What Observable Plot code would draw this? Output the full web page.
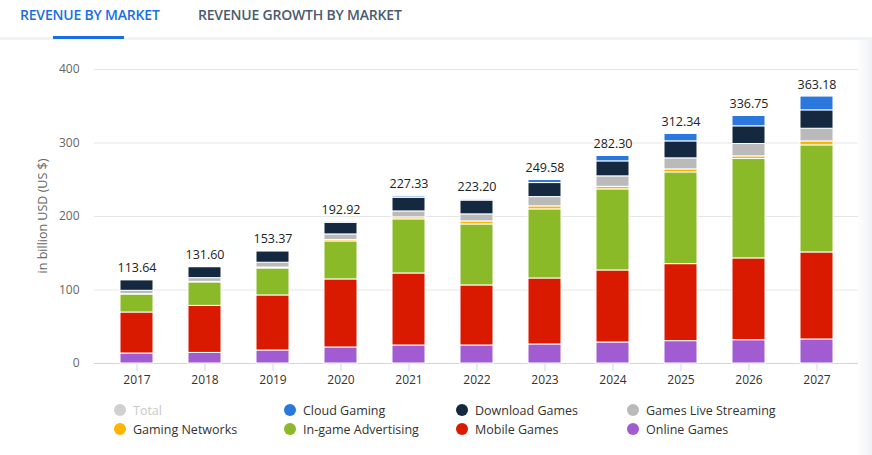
<!DOCTYPE html>
<html>
<head>
<meta charset="utf-8">
<script src="https://cdn.jsdelivr.net/npm/d3@7"></script>
<script src="https://cdn.jsdelivr.net/npm/@observablehq/plot@0.6"></script>
<style>
  html, body { margin: 0; padding: 0; background: #fff; }
  body { width: 872px; height: 455px; position: relative; overflow: hidden; font-family: "Open Sans", "DejaVu Sans", sans-serif; }
  .tab { position: absolute; top: 5px; font-size: 14px; font-weight: 600; letter-spacing: -0.2px; white-space: nowrap; }
  .tab1 { left: 20px; color: #1a6fe0; }
  .tab2 { left: 198px; color: #4b5a70; }
  .tabline { position: absolute; left: 0; top: 37px; width: 872px; height: 3px; background: #f0f3f7; }
  .tabsel { position: absolute; left: 53px; top: 36px; width: 71px; height: 3px; background: #1a6fe0; }
  .rightfade { position: absolute; right: 0; top: 40px; width: 16px; height: 415px; background: linear-gradient(to right, rgba(240,242,245,0), #f0f2f5); }
  #chart { position: absolute; left: 0; top: 50px; }
  .ylabel { position: absolute; left: 42px; top: 216px; transform: translate(-50%, -50%) rotate(-90deg); font-size: 12.5px; color: #666; white-space: nowrap; }
  .legend { position: absolute; font-size: 12.5px; color: #333; white-space: nowrap; }
  .legend .dot { position: absolute; width: 12px; height: 12px; border-radius: 50%; left: -19px; top: 2px; }
</style>
</head>
<body>
<div class="tab tab1">REVENUE BY MARKET</div>
<div class="tab tab2">REVENUE GROWTH BY MARKET</div>
<div class="tabline"></div>
<div class="tabsel"></div>
<div id="chart"></div>
<div class="ylabel" id="ylabel"></div>
<div id="legend"></div>
<div class="rightfade"></div>
<script>
const years = ["2017","2018","2019","2020","2021","2022","2023","2024","2025","2026","2027"];
const onlineGames        = [13.6, 14.4, 17.7, 21.8, 24.5, 24.5, 25.9, 28.6, 30.4, 31.7, 32.7];
const mobileGames        = [55.8, 64.0, 74.9, 92.6, 98.0, 81.7, 89.8, 98.0, 104.8, 111.3, 118.4];
const inGameAdvertising  = [24.5, 31.9, 36.7, 51.7, 73.6, 83.0, 94.0, 110.3, 124.8, 135.2, 145.7];
const gamingNetworks     = [0.5, 0.8, 1.3, 2.0, 2.7, 4.1, 4.1, 3.5, 4.1, 3.6, 5.4];
const gamesLiveStreaming = [4.5, 5.0, 6.5, 7.5, 8.1, 9.6, 12.6, 14.2, 15.0, 16.8, 17.2];
const downloadGames      = [14.4, 15.0, 15.5, 15.8, 18.6, 18.8, 19.1, 20.4, 23.1, 24.1, 25.0];
const cloudGaming        = [0.34, 0.5, 0.77, 1.52, 1.83, 1.5, 4.08, 7.3, 10.14, 14.05, 18.78];
const totals             = [113.64, 131.60, 153.37, 192.92, 227.33, 223.20, 249.58, 282.30, 312.34, 336.75, 363.18];
const yTicks = [0, 100, 200, 300, 400];
const yLabel = "in billion USD (US $)";

const seriesNames = ["Online Games","Mobile Games","In-game Advertising","Gaming Networks","Games Live Streaming","Download Games","Cloud Gaming"];
const seriesValues = [onlineGames, mobileGames, inGameAdvertising, gamingNetworks, gamesLiveStreaming, downloadGames, cloudGaming];
const seriesColors = ["#a05cd0","#d91a00","#8aba28","#ffb400","#bababa","#14283f","#2a77dd"];

const legendNames  = ["Total","Cloud Gaming","Download Games","Games Live Streaming","Gaming Networks","In-game Advertising","Mobile Games","Online Games"];
const legendColors = ["#d0d0d0","#2a77dd","#14283f","#bababa","#ffb400","#8aba28","#d91a00","#a05cd0"];

const rows = [];
seriesNames.forEach((s, i) => years.forEach((y, j) => rows.push({year: y, series: s, value: seriesValues[i][j]})));
const totalRows = years.map((y, j) => ({year: y, total: totals[j]}));

const chart = Plot.plot({
  width: 872,
  height: 340,
  marginLeft: 94,
  marginRight: 14,
  marginTop: 19,
  marginBottom: 27,
  style: {fontFamily: "'Open Sans', 'DejaVu Sans', sans-serif", fontSize: "12px", background: "transparent"},
  x: {domain: years, paddingInner: 0.52, paddingOuter: 0.36},
  y: {domain: [0, 400]},
  color: {domain: seriesNames, range: seriesColors},
  marks: [
    Plot.ruleY(yTicks.filter(d => d > 0), {stroke: "#e6e6e6"}),
    Plot.ruleY([0], {stroke: "#ccd6eb"}),
    Plot.axisY({ticks: yTicks, tickSize: 0, tickPadding: 15, label: null, fill: "#666", fontSize: 12}),
    Plot.axisX({tickSize: 8, tickPadding: 4, label: null, stroke: "#ccd6eb", fill: "#333", fontSize: 12}),
    Plot.barY(rows, {x: "year", y: "value", fill: "series", order: seriesNames, stroke: "white", strokeWidth: 1}),
    Plot.text(totalRows, {x: "year", y: "total", text: d => d.total.toFixed(2), dy: -12, fill: "#222", fontSize: 12.5, fontWeight: 500})
  ]
});
document.getElementById("chart").appendChild(chart);
document.getElementById("ylabel").textContent = yLabel;

const legendX = [133, 303, 475, 646];
const legendY = [402, 421];
const lg = document.getElementById("legend");
legendNames.forEach((n, i) => {
  const d = document.createElement("div");
  d.className = "legend";
  d.style.left = legendX[i % 4] + "px";
  d.style.top = legendY[Math.floor(i / 4)] + "px";
  if (n === "Total") d.style.color = "#c8c8c8";
  d.innerHTML = `<span class="dot" style="background:${legendColors[i]}"></span>${n}`;
  lg.appendChild(d);
});
</script>
</body>
</html>
